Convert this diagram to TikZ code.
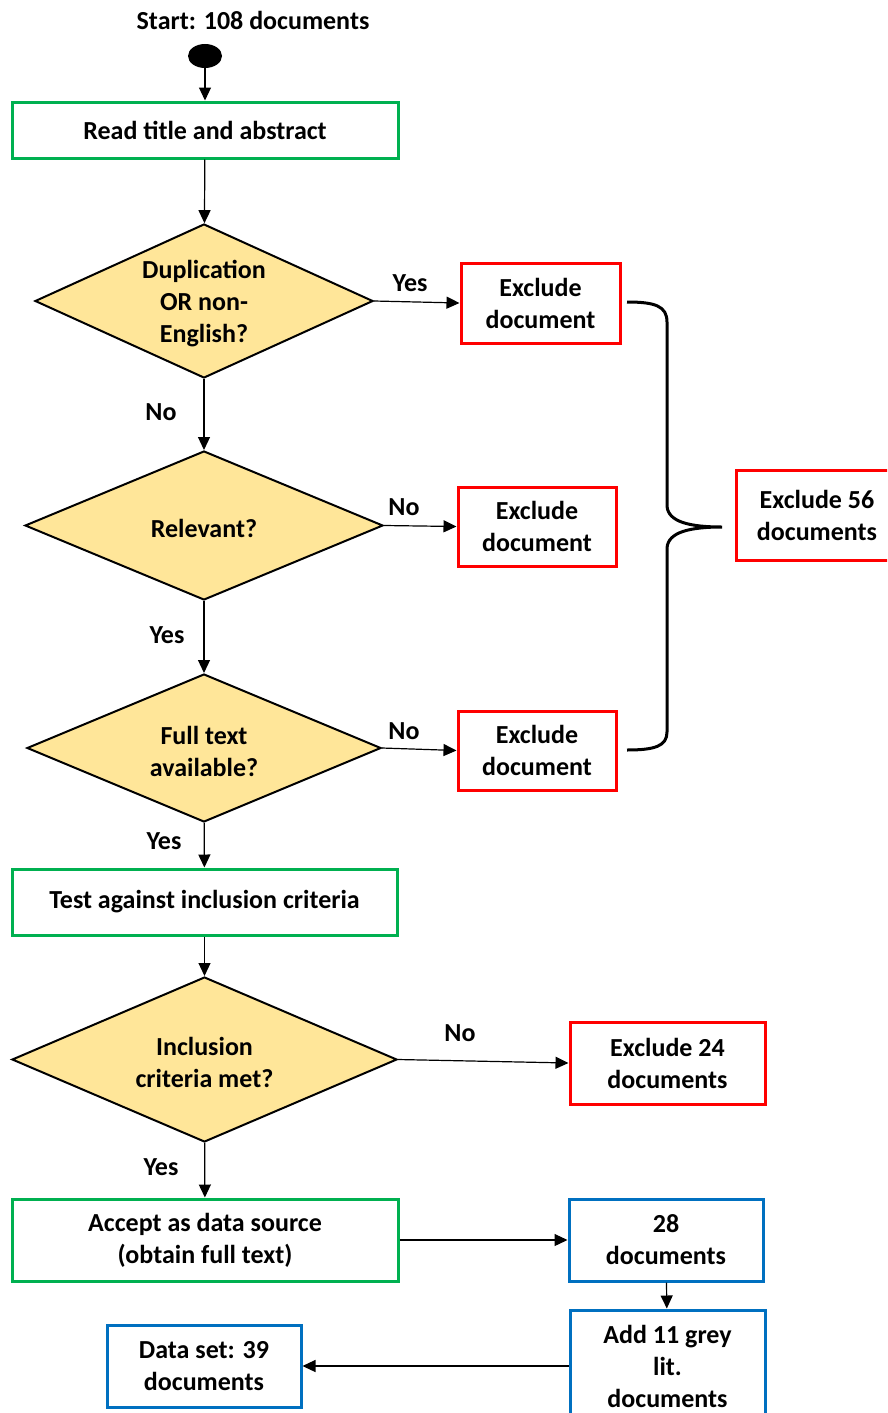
\documentclass[tikz,border=0pt]{standalone}
\usepackage{fontspec}
\setmainfont{Carlito}
\usetikzlibrary{shapes.geometric,arrows.meta}
\definecolor{boxgreen}{RGB}{0,176,80}
\definecolor{boxred}{RGB}{255,0,0}
\definecolor{boxblue}{RGB}{0,112,192}
\definecolor{decfill}{RGB}{255,230,153}
\tikzset{
  every node/.style={font=\fontsize{26}{32}\selectfont\bfseries, align=center},
  box/.style={rectangle, draw, line width=3pt, fill=white, inner sep=0pt},
  greenbox/.style={box, draw=boxgreen},
  redbox/.style={box, draw=boxred},
  bluebox/.style={box, draw=boxblue},
  decision/.style={diamond, draw=black, line width=2pt, fill=decfill, inner sep=0pt},
  flow/.style={line width=1.2pt, -{Triangle[length=13pt,width=12pt]}},
  answer/.style={inner sep=0pt},
  inside/.style={answer, yshift=-3pt},
}
\begin{document}
\begin{tikzpicture}[x=1pt, y=-1pt]
\useasboundingbox (0,0) rectangle (887,1413);
\clip (0,0) rectangle (887,1413);

% start marker
\node (title) at (253,20) {Start: 108 documents};
\node[ellipse, fill=black, minimum width=34pt, minimum height=24pt, inner sep=0pt] (start) at (205,56) {};

% main column
\node[greenbox, minimum width=386pt, minimum height=56pt] (read) at (205,130) {Read title and abstract};
\node[decision, minimum width=338pt, minimum height=154pt,
  label={[inside]center:Duplication\\OR non-\\English?}] (dup) at (204,301) {};
\node[decision, minimum width=358pt, minimum height=149pt,
  label={[inside]center:Relevant?}] (rel) at (204,525.5) {};
\node[decision, minimum width=354pt, minimum height=148pt,
  label={[inside]center:Full text\\available?}] (full) at (204,748) {};
\node[greenbox, minimum width=385pt, minimum height=66pt] (test) at (204.5,902) {\raisebox{-3pt}{Test against inclusion criteria}};
\node[decision, minimum width=385pt, minimum height=165pt,
  label={[inside]center:Inclusion\\criteria met?}] (incl) at (204.5,1059.5) {};
\node[greenbox, minimum width=386pt, minimum height=82pt] (accept) at (205,1240) {Accept as data source\\(obtain full text)};

% exclusions
\node[redbox, minimum width=159pt, minimum height=80pt] (exA) at (540.5,303) {Exclude\\document};
\node[redbox, minimum width=158pt, minimum height=79pt] (exB) at (537,526.5) {Exclude\\document};
\node[redbox, minimum width=158pt, minimum height=79pt] (exC) at (537,750.5) {Exclude\\document};
\node[redbox, minimum width=162pt, minimum height=90pt] (exAll) at (817,515) {Exclude 56\\documents};
\node[redbox, minimum width=195pt, minimum height=82pt] (exIncl) at (667.5,1063) {Exclude 24\\documents};

% data set assembly
\node[bluebox, minimum width=194pt, minimum height=82pt] (found) at (666,1240) {28\\documents};
\node[bluebox, minimum width=195pt, minimum height=112pt] (grey) at (667.5,1366) {Add 11 grey\\lit.\\documents};
\node[bluebox, minimum width=194pt, minimum height=82pt] (dataset) at (204,1366) {Data set: 39\\documents};

% connectors
\draw[flow] (start) -- (read);
\draw[flow] (read) -- (dup);
\draw[flow] (dup) -- (rel);
\draw[flow] (rel) -- (full);
\draw[flow] (full) -- (test);
\draw[flow] (test) -- (incl);
\draw[flow] (incl) -- (accept);
\draw[flow] (dup.east) -- (exA.west);
\draw[flow] (rel.east) -- (exB.west);
\draw[flow] (full.east) -- (exC.west);
\draw[flow] (incl.east) -- (exIncl.west);
\draw[flow] (accept.east) -- (found.west);
\draw[flow] (found) -- (grey);
\draw[flow] (grey.west) -- (dataset.east);

% branch answers
\node[answer] at (410,283) {Yes};
\node[answer] at (161,412) {No};
\node[answer] at (404,507) {No};
\node[answer] at (167,635) {Yes};
\node[answer] at (404,731) {No};
\node[answer] at (164,841) {Yes};
\node[answer] at (460,1033) {No};
\node[answer] at (161,1167) {Yes};

% brace gathering the three exclusions
\coordinate (braceTop) at (627,302);
\coordinate (braceTip) at (722,527);
\coordinate (braceBot) at (627,750);
\draw[line width=3pt]
  (braceTop) .. controls (655,302) and (667,306) .. (667,322)
  -- (667,506) .. controls (668,522) and (690,527) .. (braceTip)
  .. controls (690,527) and (668,532) .. (667,548)
  -- (667,732) .. controls (667,746) and (655,750) .. (braceBot);
\end{tikzpicture}
\end{document}
